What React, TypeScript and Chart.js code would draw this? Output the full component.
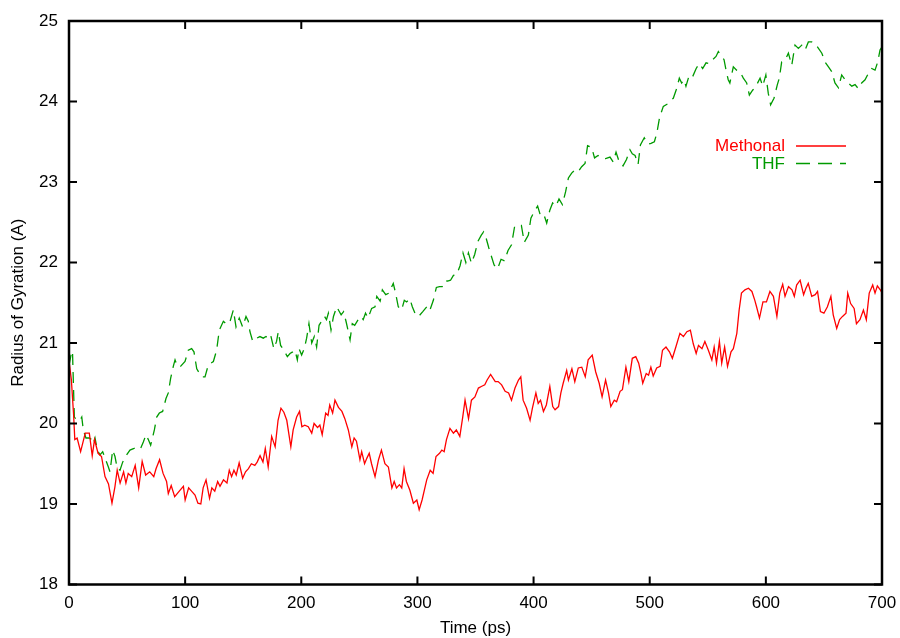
import React, { useEffect, useRef } from "react";
import { Chart, registerables } from "chart.js";

Chart.register(...registerables);

// Time (ps) and radius of gyration (A)
const methonal: [number, number][] = [
  [0,20.78],[2,20.55],[4,20.1],[5,19.8],[7,19.82],[10,19.65],[14,19.88],[17.5,19.88],[20,19.6],[22,19.8],[25,19.63],[28,19.59],[31,19.34],[34,19.25],[37,19.01],[39.5,19.21],[41.5,19.42],[44,19.26],[47,19.4],[49,19.26],[51,19.38],[54,19.34],[57,19.48],[60,19.2],[63,19.53],[66,19.36],[69.5,19.4],[73,19.34],[75,19.44],[78,19.55],[81,19.38],[84,19.28],[85.5,19.13],[88,19.23],[91,19.09],[95.5,19.17],[98.5,19.22],[100,19.05],[103,19.2],[105.5,19.16],[108.5,19.11],[111,19.01],[113.5,19.0],[115.5,19.2],[118,19.3],[121,19.07],[123,19.2],[125.5,19.16],[128,19.28],[130,19.22],[133,19.3],[136,19.26],[138,19.42],[140,19.34],[142,19.42],[144,19.36],[146.5,19.51],[149.5,19.32],[152,19.4],[154.5,19.44],[157,19.5],[160,19.48],[162,19.52],[164.5,19.6],[167,19.52],[169,19.69],[171.5,19.46],[174.5,19.84],[177.5,19.71],[180,20.04],[182.5,20.19],[185,20.14],[187.5,20.04],[191,19.71],[193,19.92],[196,20.08],[198.5,20.15],[200.5,19.96],[203,19.98],[206,19.96],[209,19.88],[211,20.0],[214,19.95],[216,19.98],[218,19.86],[221,20.13],[223,20.1],[224.5,20.23],[227,20.13],[229,20.29],[232,20.2],[235,20.15],[237.5,20.06],[240.5,19.92],[243.5,19.71],[245.5,19.82],[247.5,19.78],[250.5,19.55],[252,19.65],[254.5,19.5],[256.5,19.57],[258.5,19.63],[260.5,19.5],[263.5,19.34],[266.5,19.55],[269,19.67],[272,19.5],[275,19.46],[278,19.2],[280,19.28],[282,19.2],[284.5,19.24],[286.5,19.2],[288.5,19.44],[290.5,19.28],[293.5,19.17],[296.5,19.01],[299.5,19.05],[301.5,18.93],[304,19.05],[308,19.3],[311,19.42],[313.5,19.38],[316,19.59],[319,19.63],[321,19.67],[323,19.65],[325,19.8],[328,19.94],[331,19.88],[333.5,19.92],[336.5,19.84],[339,20.08],[341,20.29],[344,20.06],[346.5,20.29],[349.5,20.33],[352.5,20.44],[355,20.46],[358,20.48],[360,20.54],[363,20.61],[367,20.52],[369.5,20.52],[372.5,20.48],[375.5,20.4],[378.5,20.38],[381,20.29],[384,20.44],[387,20.54],[389,20.58],[391,20.29],[394,20.19],[397,20.04],[399,20.19],[402,20.38],[404,20.25],[406,20.29],[408.5,20.15],[411,20.23],[414,20.46],[416.5,20.21],[418.5,20.17],[421.5,20.21],[423.5,20.38],[425.5,20.5],[428.5,20.66],[430,20.54],[433,20.68],[435.5,20.52],[438.5,20.69],[441.5,20.7],[444.5,20.58],[447,20.79],[450.5,20.85],[453.5,20.64],[456.5,20.5],[459,20.33],[462,20.54],[464.5,20.38],[466.5,20.21],[469.5,20.29],[471.5,20.27],[474.5,20.4],[476.5,20.42],[479.5,20.7],[482,20.52],[485,20.81],[488,20.83],[490.5,20.75],[492.5,20.62],[494,20.5],[497,20.62],[499,20.6],[501,20.7],[503,20.59],[506,20.69],[509,20.71],[511,20.91],[514,20.95],[517,20.89],[519.5,20.81],[522.5,20.95],[526,21.12],[529,21.08],[532,21.14],[535,21.16],[537.5,20.99],[540,20.87],[542,20.97],[545,20.93],[547.5,21.02],[550.5,20.91],[553.5,20.79],[555.5,20.95],[557.5,20.75],[560,21.02],[562,20.75],[564.5,20.95],[567,20.71],[570,20.89],[572,20.93],[575,21.12],[577,21.41],[579,21.62],[582,21.66],[585,21.68],[588,21.64],[590.5,21.53],[592,21.45],[594.5,21.31],[597.5,21.51],[600.5,21.51],[603.5,21.64],[606.5,21.58],[609.5,21.33],[612,21.62],[614.5,21.73],[616.5,21.58],[619.5,21.7],[622.5,21.66],[624.5,21.58],[626.5,21.72],[629.5,21.78],[632.5,21.6],[634.5,21.68],[636.5,21.74],[639.5,21.58],[642.5,21.6],[644.5,21.64],[647,21.39],[650,21.37],[653,21.45],[656,21.58],[658,21.35],[661,21.18],[663.5,21.29],[666,21.33],[669,21.37],[670.5,21.62],[673,21.49],[676,21.43],[678,21.24],[681,21.29],[684,21.41],[686.5,21.29],[689,21.62],[692,21.72],[694,21.62],[696,21.71],[699,21.65],[700,21.62]
];

const thf: [number, number][] = [
  [0,20.72],[1.7,20.85],[3,20.9],[3.7,20.54],[4.6,20.08],[7,20.04],[9.5,20.04],[11,20.08],[12.3,19.92],[14.6,19.82],[17.5,19.82],[19.5,19.8],[21,19.75],[22.4,19.82],[24.4,19.67],[26.7,19.61],[29,19.65],[31,19.57],[33.9,19.46],[35.3,19.4],[37.6,19.67],[39.6,19.59],[41.6,19.44],[43.9,19.42],[46.2,19.52],[49.6,19.61],[52.5,19.67],[56,19.69],[58.9,19.71],[61.7,19.69],[64,19.77],[66.3,19.86],[68.3,19.8],[70.3,19.73],[73.5,19.92],[75.5,20.08],[77.8,20.13],[80.6,20.15],[83.5,20.31],[85.5,20.38],[87.5,20.56],[89.8,20.71],[91.3,20.79],[93.3,20.71],[96,20.71],[99.9,20.77],[102.7,20.91],[105.6,20.93],[107.6,20.89],[110,20.68],[112.4,20.62],[114.2,20.58],[117.1,20.58],[120,20.73],[124.3,20.77],[127.1,20.91],[129.4,21.16],[132.9,21.27],[135.8,21.23],[138.7,21.27],[141.5,21.41],[143.8,21.2],[146.6,21.31],[149.5,21.2],[152.4,21.33],[154.4,21.27],[155.8,21.14],[158.2,21.02],[161.6,21.06],[164.4,21.08],[167.3,21.06],[169.6,21.08],[171.6,21.06],[173.6,21.1],[176.4,20.93],[178.7,21.02],[180.2,21.14],[182.2,20.97],[185.1,20.91],[188,20.83],[190.3,20.87],[192.6,20.89],[194.6,20.91],[196.6,20.79],[198,20.93],[200.3,20.85],[202.6,20.93],[204.6,21.06],[206.6,21.24],[209,21.0],[211.2,21.08],[213.2,20.95],[215.3,21.22],[217.5,21.27],[220,21.33],[221.7,21.29],[223.3,21.37],[225.6,21.16],[227.7,21.33],[230.5,21.45],[232,21.41],[234.3,21.35],[236.4,21.39],[238.5,21.27],[240.5,21.14],[242,21.04],[243.9,21.24],[246,21.22],[249,21.29],[251.4,21.33],[253.3,21.29],[255.3,21.37],[257.5,21.31],[260.6,21.43],[263.5,21.45],[265,21.58],[267.9,21.52],[269.8,21.66],[272.7,21.6],[275.6,21.62],[277.3,21.68],[279.2,21.74],[281.2,21.62],[283.5,21.45],[286.4,21.41],[288.7,21.53],[290.7,21.51],[293.5,21.55],[295.6,21.45],[298.5,21.35],[301,21.33],[304.6,21.39],[308,21.45],[310.5,21.4],[313.7,21.53],[316.3,21.69],[319,21.7],[321.3,21.7],[323.5,21.77],[326,21.77],[328.5,21.78],[331,21.84],[333.8,21.85],[336.7,21.96],[339.2,22.12],[341.7,22.0],[343.9,22.12],[346.5,21.99],[349.3,22.1],[352,22.26],[355,22.34],[357,22.38],[359.2,22.3],[361.5,22.18],[363.2,22.1],[366,21.97],[369,21.92],[372,22.04],[375,22.02],[378,22.15],[381,22.22],[383.7,22.45],[386.2,22.46],[389.5,22.46],[392,22.25],[395.5,22.34],[397.7,22.55],[400.5,22.63],[403.5,22.7],[406,22.58],[409,22.59],[411.3,22.49],[414,22.65],[416.4,22.74],[419.2,22.7],[421.9,22.79],[424.8,22.72],[427.6,22.88],[430,23.05],[432.8,23.11],[435.7,23.15],[438.5,23.13],[441.4,23.19],[444.3,23.23],[446.5,23.45],[450,23.43],[452.5,23.3],[455.5,23.33],[458.5,23.3],[462,23.29],[465.8,23.31],[468.5,23.25],[471,23.37],[474,23.24],[477,23.2],[480,23.28],[483,23.4],[485,23.35],[487.4,23.33],[490,23.22],[492,23.46],[495.3,23.55],[498.5,23.47],[501.1,23.48],[504,23.5],[506,23.6],[508.5,23.8],[511.7,23.94],[515.3,23.97],[517.6,24.01],[520.3,24.04],[523.2,24.16],[525.5,24.29],[527.5,24.23],[529.5,24.27],[531.2,24.19],[534.1,24.33],[537,24.31],[540,24.41],[542.7,24.47],[545.6,24.41],[548.5,24.48],[551.3,24.47],[554.2,24.52],[557.1,24.56],[559.1,24.62],[562,24.56],[564,24.52],[565.7,24.39],[567.6,24.27],[569,24.23],[572,24.43],[574.8,24.39],[577.7,24.37],[580.6,24.29],[583.5,24.23],[585.8,24.08],[588.6,24.14],[591.5,24.19],[595,24.29],[597.3,24.19],[600,24.33],[602.1,24.1],[604.1,23.96],[607,24.04],[609.9,24.21],[611.6,24.29],[613.6,24.49],[616.5,24.51],[619.4,24.6],[622.3,24.45],[625.1,24.7],[628,24.66],[630.9,24.7],[633.8,24.64],[636.6,24.74],[639.5,24.74],[642.4,24.72],[645.3,24.66],[648.2,24.6],[651,24.49],[653.9,24.43],[656.8,24.37],[659.5,24.23],[662.5,24.17],[665.3,24.33],[668.2,24.27],[671,24.23],[674,24.19],[676.8,24.21],[679.6,24.16],[682.5,24.23],[685.4,24.27],[688.3,24.35],[691.1,24.41],[694,24.39],[696.3,24.49],[698.3,24.64],[700,24.68]
];

const xTickValues = [0, 100, 200, 300, 400, 500, 600, 700];
const yTickValues = [18, 19, 20, 21, 22, 23, 24, 25];
const seriesNames = ["Methonal", "THF"];
const seriesColors = ["#ff0000", "#009a00"];
const FONT = '"Liberation Sans", Arial, Helvetica, sans-serif';

const framePlugin = {
  id: "gnuplotFrame",
  afterDraw(chart: any) {
    const { ctx, chartArea, scales } = chart;
    const { left, right, top, bottom } = chartArea;
    const xs = scales.x;
    const ys = scales.y;
    ctx.save();
    ctx.strokeStyle = "#000";
    ctx.lineWidth = 2;
    ctx.lineCap = "butt";
    const tl = 8;
    ctx.beginPath();
    for (const v of xTickValues) {
      const px = xs.getPixelForValue(v);
      ctx.moveTo(px, bottom);
      ctx.lineTo(px, bottom - tl);
      ctx.moveTo(px, top);
      ctx.lineTo(px, top + tl);
    }
    for (const v of yTickValues) {
      const py = ys.getPixelForValue(v);
      ctx.moveTo(left, py);
      ctx.lineTo(left + tl, py);
      ctx.moveTo(right, py);
      ctx.lineTo(right - tl, py);
    }
    ctx.stroke();
    ctx.lineWidth = 2.5;
    ctx.strokeRect(left, top, right - left, bottom - top);

    // key
    ctx.font = `17px ${FONT}`;
    ctx.textAlign = "right";
    ctx.textBaseline = "middle";
    const tx = right - 97;
    const lx0 = right - 86;
    const lx1 = right - 36;
    const rows = [top + 125, top + 142.5];
    seriesNames.forEach((name, i) => {
      const yy = rows[i];
      ctx.fillStyle = seriesColors[i];
      ctx.fillText(name, tx, yy + 0.5);
      ctx.strokeStyle = seriesColors[i];
      ctx.lineWidth = 1.3;
      ctx.setLineDash(i === 1 ? [14, 8] : []);
      ctx.beginPath();
      ctx.moveTo(lx0, yy);
      ctx.lineTo(lx1, yy);
      ctx.stroke();
    });
    ctx.setLineDash([]);
    ctx.restore();
  },
};

export default function App() {
  const ref = useRef<HTMLCanvasElement | null>(null);
  useEffect(() => {
    document.body.style.margin = "0";
    const canvas = ref.current;
    if (!canvas) return;
    const chart = new Chart(canvas, {
      type: "line",
      data: {
        datasets: [
          {
            label: seriesNames[0],
            data: methonal.map(([x, y]) => ({ x, y })),
            borderColor: seriesColors[0],
            borderWidth: 1.3,
            pointRadius: 0,
            tension: 0,
            fill: false,
          },
          {
            label: seriesNames[1],
            data: thf.map(([x, y]) => ({ x, y })),
            borderColor: seriesColors[1],
            borderWidth: 1.3,
            borderDash: [11, 7],
            pointRadius: 0,
            tension: 0,
            fill: false,
          },
        ],
      },
      options: {
        animation: false,
        responsive: false,
        devicePixelRatio: 1,
        layout: { padding: { top: 21, right: 18, left: 0, bottom: 0 } },
        plugins: { legend: { display: false }, tooltip: { enabled: false } },
        scales: {
          x: {
            type: "linear",
            min: 0,
            max: 700,
            afterFit: (s: any) => { s.height = 53.5; s.paddingLeft = 0; s.paddingRight = 0; },
            afterBuildTicks: (s: any) => { s.ticks = xTickValues.map((v) => ({ value: v })); },
            grid: { display: false, drawTicks: false },
            border: { display: false },
            ticks: { color: "#000", font: { family: FONT, size: 17 }, padding: 9, maxRotation: 0 },
            title: { display: true, text: "Time (ps)", color: "#000", font: { family: FONT, size: 17 }, padding: { top: 0, bottom: -1 } },
          },
          y: {
            type: "linear",
            min: 18,
            max: 25,
            afterFit: (s: any) => { s.width = 69; s.paddingTop = 0; s.paddingBottom = 0; },
            afterBuildTicks: (s: any) => { s.ticks = yTickValues.map((v) => ({ value: v })); },
            grid: { display: false, drawTicks: false },
            border: { display: false },
            ticks: { color: "#000", font: { family: FONT, size: 17 }, padding: 11 },
            title: { display: true, text: "Radius of Gyration (A)", color: "#000", font: { family: FONT, size: 17 }, padding: { top: 8, bottom: 0 } },
          },
        },
      },
      plugins: [framePlugin],
    } as any);
    return () => chart.destroy();
  }, []);
  return (
    <div style={{ width: 900, height: 638 }}>
      <canvas ref={ref} width={900} height={638} style={{ display: "block" }} />
    </div>
  );
}
